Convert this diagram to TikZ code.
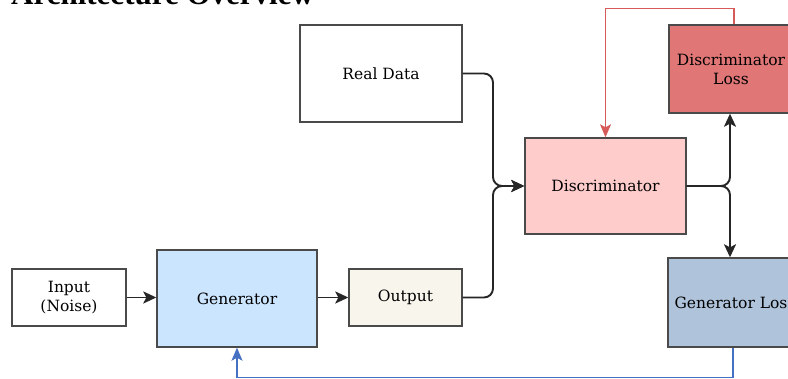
\documentclass[tikz,border=0pt]{standalone}
\usepackage{fontspec}
\setmainfont{DejaVu Serif}
\newfontfamily\titlefont{Liberation Serif}
\usetikzlibrary{arrows.meta}

\definecolor{genfill}{HTML}{CCE5FF}
\definecolor{discfill}{HTML}{FFCCCC}
\definecolor{outfill}{HTML}{F7F5EC}
\definecolor{dlossfill}{HTML}{E07676}
\definecolor{glossfill}{HTML}{AFC3DB}
\definecolor{boxline}{HTML}{4A4A4A}
\definecolor{redline}{HTML}{D65A5A}
\definecolor{blueline}{HTML}{4670C2}

\tikzset{
  block/.style={draw=boxline, line width=1.4pt, inner sep=0pt, align=center,
                font=\fontsize{15.5}{19}\selectfont},
  link/.style={draw=black!85, line width=1.9pt, rounded corners=9pt,
               -{Stealth[length=13pt,width=12pt,inset=3pt]}},
  dlink/.style={draw=redline, line width=1.4pt, -{Stealth[length=13pt,width=11pt,inset=3pt]}},
  glink/.style={draw=blueline, line width=1.4pt, -{Stealth[length=13pt,width=11pt,inset=3pt]}}
}

\begin{document}
\begin{tikzpicture}[x=1pt, y=-1pt]
\useasboundingbox (0,0) rectangle (788,379);

% Title (cut at the top edge)
\node[anchor=base west, inner sep=0pt, font=\titlefont\bfseries\fontsize{31}{31}\selectfont] (title) at (11,5) {Architecture Overview};

% Blocks
\node[block, minimum width=114, minimum height=57] (input) at (69,297.5) {Input\\(Noise)};
\node[block, fill=genfill, minimum width=160, minimum height=97] (gen) at (237,298.5) {Generator};
\node[block, fill=outfill, minimum width=113, minimum height=57] (output) at (405.5,297.5) {Output};
\node[block, minimum width=162, minimum height=97] (real) at (381,73.5) {Real Data};
\node[block, fill=discfill, minimum width=161, minimum height=96] (disc) at (605.5,186) {Discriminator};
\node[block, fill=dlossfill, minimum width=124, minimum height=88] (dloss) at (731,69) {Discriminator\\Loss};
\node[block, fill=glossfill, minimum width=134, minimum height=89] (gloss) at (735,302.5) {Generator Loss};

% Joins
\coordinate (join) at (493,186);
\coordinate (split) at (730,186);

% Forward path
\draw[link] (input.east) -- (input.east -| gen.west);
\draw[link] (output.west -| gen.east) -- (output.west);
\draw[link] (real.east) -| (join) -- (disc.west);
\draw[link] (output.east) -| (join) -- (disc.west);
\draw[link] (disc.east) -- (split) -- (split |- dloss.south);
\draw[link] (disc.east) -- (split) -- (split |- gloss.north);

% Feedback
\draw[dlink] ([xshift=3pt]dloss.north) -- ++(0,-16) -| (disc.north);
\draw[glink] ([xshift=-2pt]gloss.south) -- ++(0,30) -| (gen.south);
\end{tikzpicture}
\end{document}
